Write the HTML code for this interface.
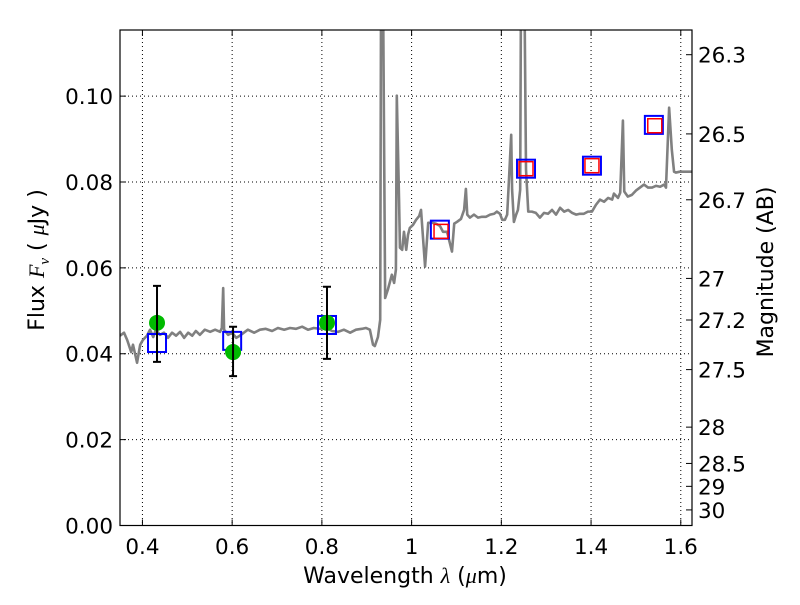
<!DOCTYPE html>
<html><head><meta charset="utf-8"><style>
html,body{margin:0;padding:0;background:#fff;}
svg text{font-family:"DejaVu Sans","Liberation Sans",sans-serif;}
</style></head><body>
<svg id="chart" width="800" height="600" viewBox="0 0 800 600" xmlns="http://www.w3.org/2000/svg">
<rect width="800" height="600" fill="#fff"/>
<defs><clipPath id="clip"><rect x="120" y="30" width="572" height="495.5"/></clipPath></defs>
<g id="grid"></g>
<g id="series" clip-path="url(#clip)"></g>
<rect x="120" y="30" width="572" height="495.5" fill="none" stroke="#000" stroke-width="1.2"/>
<g id="axes"></g>
<text x="405" y="583" font-size="22" text-anchor="middle">Wavelength  <tspan font-style="italic" font-family="Liberation Serif">λ</tspan> (<tspan font-style="italic" font-family="Liberation Serif">μ</tspan>m)</text>
<text transform="translate(44,260) rotate(-90)" font-size="22" text-anchor="middle">Flux  <tspan font-style="italic" font-family="Liberation Serif">F</tspan><tspan font-style="italic" font-family="Liberation Serif" font-size="15" dy="5">ν</tspan><tspan dy="-5">  (  </tspan><tspan font-style="italic" font-family="Liberation Serif">μ</tspan>Jy )</text>
<text transform="translate(773,272) rotate(-90)" font-size="22" text-anchor="middle">Magnitude (AB)</text>
</svg>
<script>
const xTicks=[0.4,0.6,0.8,1.0,1.2,1.4,1.6];
const xTickLabels=["0.4","0.6","0.8","1","1.2","1.4","1.6"];
const yTicks=[0,0.02,0.04,0.06,0.08,0.10];
const yTickLabels=["0.00","0.02","0.04","0.06","0.08","0.10"];
const magTicks=[26.3,26.5,26.7,27,27.2,27.5,28,28.5,29,30];
const magTickLabels=["26.3","26.5","26.7","27","27.2","27.5","28","28.5","29","30"];
const specWave=[0.350,0.359,0.366,0.375,0.379,0.388,0.395,0.401,0.410,0.417,0.424,0.430,0.439,0.448,0.457,0.466,0.475,0.484,0.493,0.502,0.511,0.519,0.528,0.539,0.551,0.562,0.573,0.577,0.580,0.582,0.591,0.600,0.609,0.617,0.626,0.635,0.649,0.662,0.675,0.689,0.702,0.716,0.729,0.742,0.756,0.769,0.782,0.796,0.809,0.823,0.836,0.849,0.863,0.876,0.889,0.898,0.907,0.914,0.918,0.925,0.930,0.932,0.936,0.941,0.947,0.956,0.961,0.965,0.967,0.972,0.974,0.979,0.983,0.988,0.992,0.996,1.003,1.010,1.017,1.021,1.030,1.037,1.046,1.054,1.063,1.070,1.079,1.090,1.095,1.101,1.110,1.117,1.121,1.124,1.130,1.139,1.148,1.157,1.166,1.175,1.184,1.190,1.197,1.202,1.208,1.213,1.217,1.222,1.224,1.228,1.233,1.237,1.242,1.244,1.251,1.255,1.260,1.268,1.277,1.286,1.295,1.304,1.313,1.322,1.331,1.340,1.349,1.358,1.367,1.375,1.384,1.393,1.402,1.411,1.420,1.429,1.438,1.447,1.451,1.460,1.465,1.471,1.474,1.482,1.491,1.500,1.509,1.518,1.527,1.536,1.545,1.554,1.563,1.567,1.574,1.580,1.585,1.589,1.598,1.607,1.625];
const specFlux=[0.0442,0.0449,0.0432,0.0404,0.0421,0.0379,0.0421,0.0432,0.0442,0.0456,0.0439,0.0456,0.0444,0.0449,0.0437,0.0449,0.0442,0.0451,0.0437,0.0449,0.0442,0.0453,0.0444,0.0456,0.0451,0.0456,0.0451,0.0460,0.0553,0.0456,0.0444,0.0449,0.0437,0.0442,0.0449,0.0456,0.0449,0.0456,0.0458,0.0453,0.0460,0.0456,0.0460,0.0458,0.0463,0.0456,0.0460,0.0458,0.0460,0.0453,0.0451,0.0456,0.0449,0.0456,0.0458,0.0460,0.0456,0.0421,0.0418,0.0439,0.0479,0.13,0.13,0.0530,0.0549,0.0584,0.0565,0.0596,0.1001,0.0759,0.0647,0.0642,0.0684,0.0642,0.0677,0.0693,0.0700,0.0712,0.0721,0.0735,0.0603,0.0705,0.0705,0.0703,0.0698,0.0684,0.0684,0.0638,0.0703,0.0707,0.0714,0.0735,0.0784,0.0724,0.0717,0.0724,0.0717,0.0719,0.0719,0.0724,0.0726,0.0731,0.0726,0.0712,0.0712,0.0724,0.0805,0.0910,0.0782,0.0707,0.0724,0.0735,0.0782,0.13,0.13,0.0829,0.0731,0.0731,0.0728,0.0717,0.0728,0.0726,0.0735,0.0724,0.0740,0.0731,0.0735,0.0728,0.0724,0.0726,0.0726,0.0731,0.0731,0.0747,0.0759,0.0754,0.0763,0.0759,0.0773,0.0763,0.0775,0.0943,0.0778,0.0766,0.0770,0.0780,0.0787,0.0794,0.0787,0.0787,0.0791,0.0789,0.0794,0.0787,0.0973,0.0875,0.0824,0.0822,0.0824,0.0824,0.0824];
const photWave=[0.4325,0.602,0.8114];
const photFlux=[0.0472,0.0404,0.0472];
const photErrHi=[0.0558,0.0463,0.0556];
const photErrLo=[0.0381,0.0348,0.0388];
const modelWave=[0.4325,0.600,0.8114,1.063,1.255,1.402,1.540];
const modelFlux=[0.0425,0.0430,0.0467,0.0689,0.0831,0.0838,0.0933];
const fitWave=[1.0656,1.255,1.402,1.542];
const fitFlux=[0.0685,0.0831,0.0838,0.0931];

const X0=120,X1=692,Y0=525.5,Y1=30,xmin=0.35,xmax=1.625,ymin=0,ymax=0.1154;
const sx=v=>X0+(v-xmin)/(xmax-xmin)*(X1-X0);
const sy=v=>Y0-(v-ymin)/(ymax-ymin)*(Y0-Y1);
const NS="http://www.w3.org/2000/svg";
function mk(tag,attrs,parent){const e=document.createElementNS(NS,tag);for(const k in attrs)e.setAttribute(k,attrs[k]);parent.appendChild(e);return e;}
const grid=document.getElementById('grid'),axes=document.getElementById('axes'),series=document.getElementById('series');

xTicks.forEach((t,i)=>{const x=sx(t);
 const g=mk('line',{x1:x,x2:x,y1:Y1,y2:Y0,stroke:'#000','stroke-width':1,'stroke-dasharray':'1,3'},grid);
 
 mk('line',{x1:x,x2:x,y1:Y0,y2:Y0-6,stroke:'#000'},axes);
 mk('line',{x1:x,x2:x,y1:Y1,y2:Y1+6,stroke:'#000'},axes);
 const tx=mk('text',{x:x,y:554,'font-size':21.5,'text-anchor':'middle'},axes);tx.textContent=xTickLabels[i];
 });
yTicks.forEach((t,i)=>{const y=sy(t);
 const g=mk('line',{x1:X0,x2:X1,y1:y,y2:y,stroke:'#000','stroke-width':1,'stroke-dasharray':'1,3'},grid);
 
 mk('line',{x1:X0,x2:X0+6,y1:y,y2:y,stroke:'#000'},axes);
 const tx=mk('text',{x:113,y:y+8,'font-size':21.5,'text-anchor':'end'},axes);tx.textContent=yTickLabels[i];
 });
magTicks.forEach((m,i)=>{const y=sy(Math.pow(10,(23.9-m)/2.5));
 mk('line',{x1:X1,x2:X1-6,y1:y,y2:y,stroke:'#000'},axes);
 const tx=mk('text',{x:698,y:y+8,'font-size':21.5},axes);tx.textContent=magTickLabels[i];
 });

const sp=mk('polyline',{points:specWave.map((w,i)=>sx(w)+','+sy(specFlux[i])).join(' '),fill:'none',stroke:'#808080','stroke-width':2.6,'stroke-linejoin':'round'},series);


modelWave.forEach((w,i)=>{const x=sx(w),y=sy(modelFlux[i]);
 const r=mk('rect',{x:x-9,y:y-9,width:18,height:18,fill:'none',stroke:'#0000ff','stroke-width':2},series);
 });
fitWave.forEach((w,i)=>{const x=sx(w),y=sy(fitFlux[i]);
 const r=mk('rect',{x:x-7,y:y-7,width:14,height:14,fill:'none',stroke:'#ff0000','stroke-width':1.5},series);
 });
photWave.forEach((w,i)=>{const x=sx(w);
 const c=mk('circle',{cx:x,cy:sy(photFlux[i]),r:8,fill:'#00bb00'},series);
 
 const e=mk('path',{d:`M${x},${sy(photErrHi[i])}V${sy(photErrLo[i])}M${x-4},${sy(photErrHi[i])}h8M${x-4},${sy(photErrLo[i])}h8`,stroke:'#000','stroke-width':2,fill:'none'},series);
 });
</script>
</body></html>
